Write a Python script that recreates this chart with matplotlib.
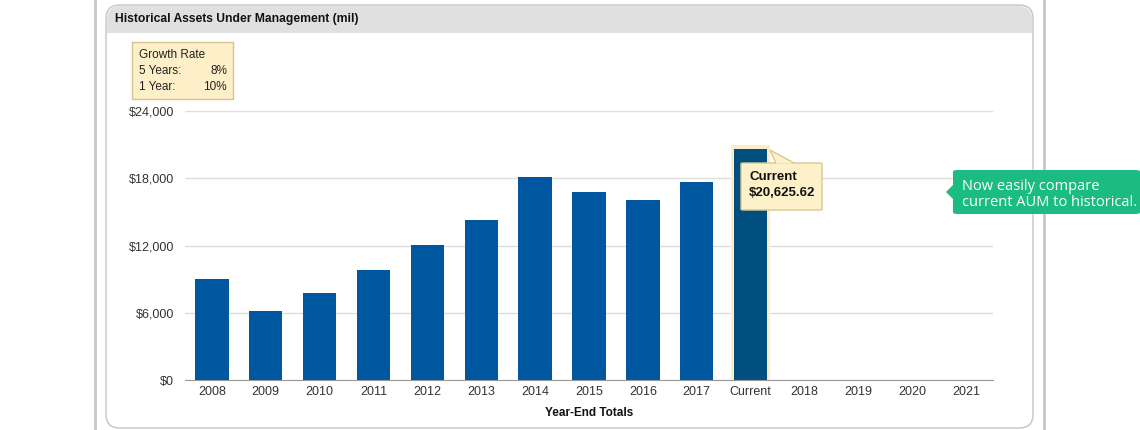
import numpy as np
import matplotlib
matplotlib.use("Agg")
from matplotlib import pyplot as plt
from matplotlib.patches import FancyBboxPatch, Rectangle, Polygon

categories = ['2008', '2009', '2010', '2011', '2012', '2013', '2014', '2015',
              '2016', '2017', 'Current', '2018', '2019', '2020', '2021']
values = [9000, 6150, 7750, 9800, 12050, 14250, 18100, 16750,
          16050, 17650, 20625.62, np.nan, np.nan, np.nan, np.nan]
yticks = [0, 6000, 12000, 18000, 24000]
current_idx = 10
growth_rows = [('5 Years:', '8%'), ('1 Year:', '10%')]

W, H = 1140, 430
plt.rcParams['font.family'] = ['Liberation Sans', 'DejaVu Sans']

fig = plt.figure(figsize=(W / 100, H / 100), dpi=100)
fig.patch.set_facecolor('white')


def fx(x):
    return x / W


def fy(y):
    return 1 - y / H


# outer page lines
for x in (95, 1044):
    fig.add_artist(plt.Line2D([fx(x), fx(x)], [0, 1], color='#c8c8c8', lw=2, zorder=0.1))

# panel with header
panel = FancyBboxPatch((fx(106), fy(428)), fx(1033 - 106), (428 - 5) / H,
                       boxstyle='round,pad=0,rounding_size=0.012',
                       transform=fig.transFigure, facecolor='white',
                       edgecolor='#c4c4c4', lw=1, mutation_aspect=W / H, zorder=0.1)
fig.add_artist(panel)
header = FancyBboxPatch((fx(107), fy(33)), fx(1032 - 107), (33 - 6) / H,
                        boxstyle='round,pad=0,rounding_size=0.012',
                        transform=fig.transFigure, facecolor='#e0e0e0',
                        edgecolor='none', mutation_aspect=W / H, zorder=0.2)
fig.add_artist(header)
fig.add_artist(Rectangle((fx(107), fy(33)), fx(1032 - 107), 14 / H,
                         transform=fig.transFigure, facecolor='#e0e0e0',
                         edgecolor='none', zorder=0.2))
fig.text(fx(115), fy(19), 'Historical Assets Under Management (mil)',
         fontsize=8.7, fontweight='bold', va='center', color='#111111')

# growth rate box
fig.add_artist(Rectangle((fx(132), fy(99)), fx(233 - 132), (99 - 42) / H,
                         transform=fig.transFigure, facecolor='#fdf0c9',
                         edgecolor='#d6c48e', lw=1, zorder=2))
fig.text(fx(139), fy(55), 'Growth Rate', fontsize=8.5, va='center', color='#222222')
for i, (lab, val) in enumerate(growth_rows):
    yy = fy(71 + 16 * i)
    fig.text(fx(139), yy, lab, fontsize=8.5, va='center', color='#222222')
    fig.text(fx(227), yy, val, fontsize=8.5, va='center', ha='right', color='#222222')

# chart axes
ax = fig.add_axes([fx(185), fy(380), fx(993 - 185), (380 - 111) / H])
ax.set_zorder(1)
ax.set_facecolor('none')
x = np.arange(len(categories))
colors = ['#00569f'] * len(categories)
colors[current_idx] = '#004f7f'
ax.bar(x[current_idx], values[current_idx] + 370, width=0.72, color='#fbeec4',
       edgecolor='none', zorder=2)
ax.bar(x, values, width=0.62, color=colors, edgecolor='none', zorder=3)

ax.set_xlim(-0.5, len(categories) - 0.5)
ax.set_ylim(0, 24000)
ax.set_yticks(yticks)
ax.set_yticklabels(['${:,}'.format(v) for v in yticks])
ax.set_xticks(x)
ax.set_xticklabels(categories)
ax.tick_params(axis='both', length=0, labelsize=9, colors='#333333')
ax.tick_params(axis='y', pad=8)
ax.tick_params(axis='x', pad=4.5)
ax.grid(axis='y', color='#dddddd', lw=1, zorder=0)
for s in ('top', 'right', 'left'):
    ax.spines[s].set_visible(False)
ax.spines['bottom'].set_color('#999999')
ax.spines['bottom'].set_zorder(4)
ax.set_xlabel('Year-End Totals', fontsize=8.5, fontweight='bold', labelpad=6,
              color='#111111')

# tooltip for current bar
cur = values[current_idx]
tip = FancyBboxPatch((fx(741), fy(210)), fx(822 - 741), (210 - 163) / H,
                     boxstyle='round,pad=0,rounding_size=0.002',
                     transform=fig.transFigure, facecolor='#fdf1c9',
                     edgecolor='#d9c890', lw=1, zorder=10)
fig.add_artist(tip)
fig.add_artist(Polygon([(fx(776), fy(163.5)), (fx(770), fy(150)), (fx(795), fy(163.5))],
                       closed=False, transform=fig.transFigure, facecolor='#fdf1c9',
                       edgecolor='#d9c890', lw=1, zorder=11))
fig.text(fx(749), fy(177), 'Current', fontsize=9.5, fontweight='bold',
         va='center', color='#111111', zorder=12)
fig.text(fx(749), fy(193), '${:,.2f}'.format(cur), fontsize=9.5, fontweight='bold',
         va='center', color='#111111', zorder=12)

# green callout
callout = FancyBboxPatch((fx(953), fy(214)), fx(1140 - 953), (214 - 170) / H,
                         boxstyle='round,pad=0,rounding_size=0.004',
                         transform=fig.transFigure, facecolor='#1bbc81',
                         edgecolor='none', zorder=20)
fig.add_artist(callout)
fig.add_artist(Polygon([(fx(954), fy(184)), (fx(946), fy(192)), (fx(954), fy(200))],
                       transform=fig.transFigure, facecolor='#1bbc81',
                       edgecolor='none', zorder=20))
fig.text(fx(962), fy(194.5), 'Now easily compare\ncurrent AUM to historical.',
         fontsize=10.5, family=['Open Sans', 'DejaVu Sans'], color='white',
         va='center', linespacing=1.1, zorder=21)

fig.savefig('out.png', dpi=100)
